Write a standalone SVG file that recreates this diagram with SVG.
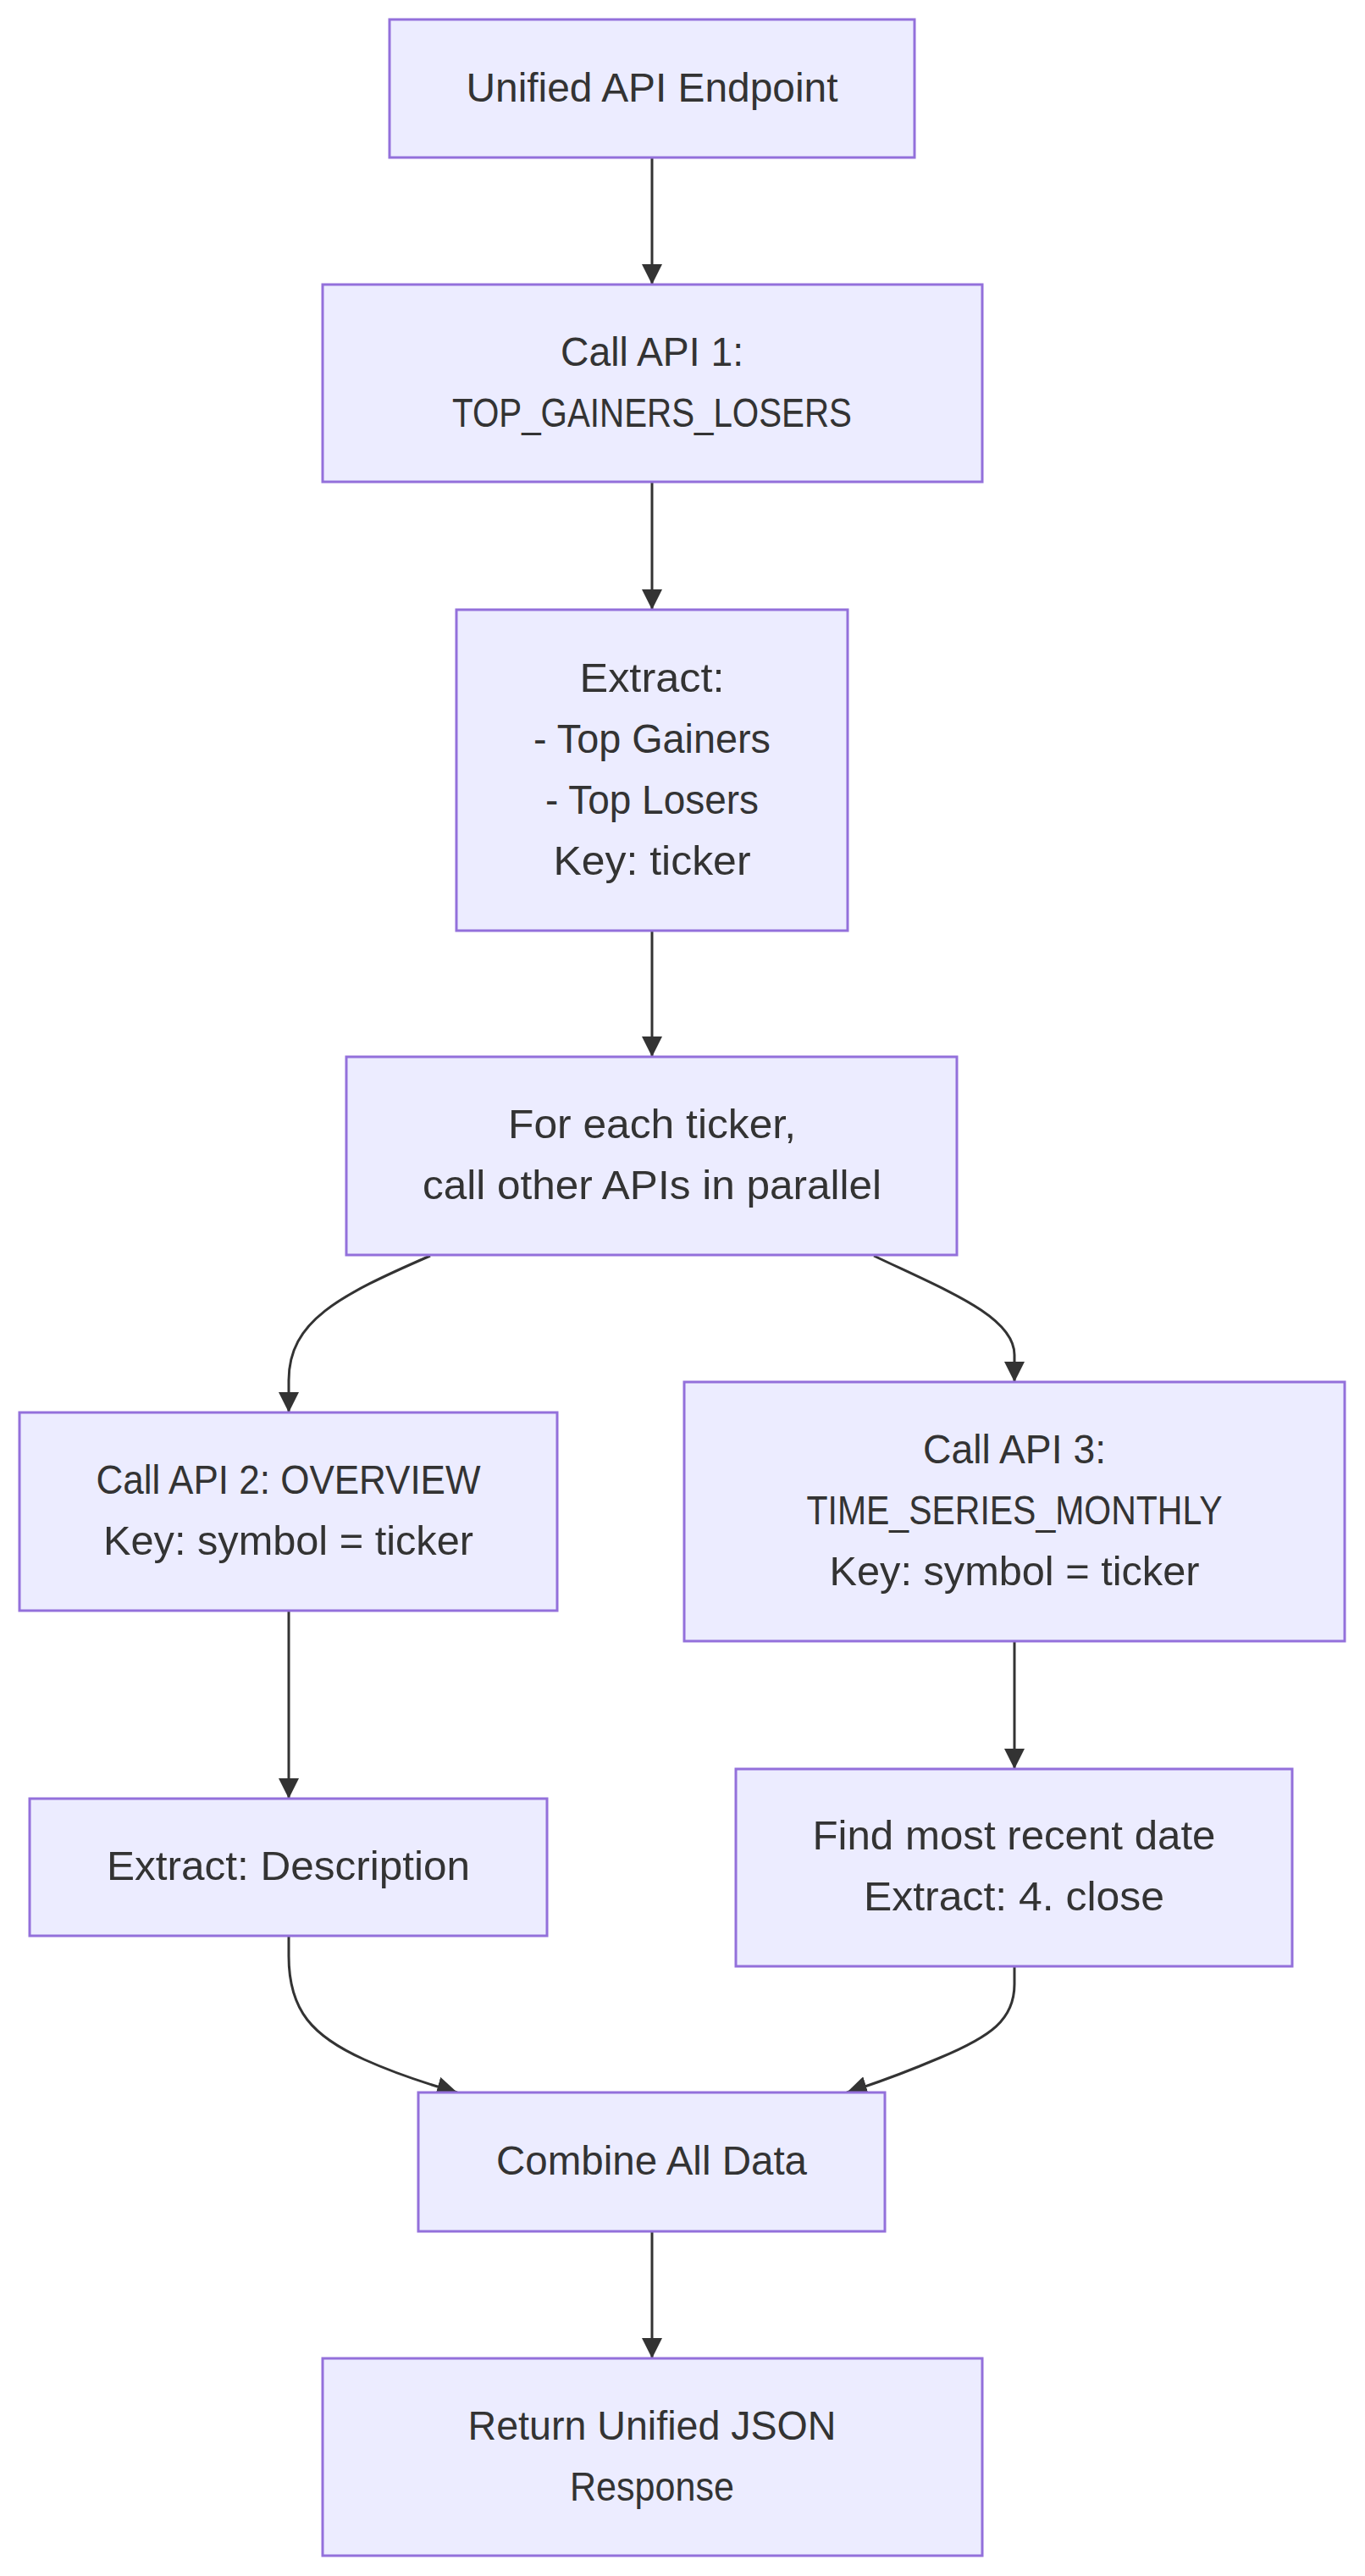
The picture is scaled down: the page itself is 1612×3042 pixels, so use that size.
<svg xmlns="http://www.w3.org/2000/svg" width="1612" height="3042" viewBox="0 0 1612 3042">
<style>
.node rect{fill:#ECECFF;stroke:#9370DB;stroke-width:3;}
.node text{font-family:"Liberation Sans",Arial,sans-serif;font-size:48px;fill:#333333;text-anchor:middle;}
.edge{fill:none;stroke:#333333;stroke-width:3;}
</style>
<defs>
<marker id="arrow" markerUnits="userSpaceOnUse" viewBox="0 0 24 24" markerWidth="24" markerHeight="24" refX="24" refY="12" orient="auto">
<path d="M0,0 L24,12 L0,24 z" fill="#333333"/>
</marker>
</defs>
<rect width="1612" height="3042" fill="#ffffff"/>
<g id="connectors">
<path class="edge" d="M770,186 L770,336" marker-end="url(#arrow)"/>
<path class="edge" d="M770,569 L770,720" marker-end="url(#arrow)"/>
<path class="edge" d="M770,1099 L770,1248" marker-end="url(#arrow)"/>
<path class="edge" d="M508,1483 C400,1530 341,1560 341,1630 L341,1668" marker-end="url(#arrow)"/>
<path class="edge" d="M1032,1483 C1120,1525 1198,1555 1198,1600 L1198,1632" marker-end="url(#arrow)"/>
<path class="edge" d="M341,1902 L341,2124" marker-end="url(#arrow)"/>
<path class="edge" d="M1198,1938 L1198,2089" marker-end="url(#arrow)"/>
<path class="edge" d="M341,2286 L341,2310 C341,2375 370,2405 430,2432 C470,2450 505,2461 540,2471" marker-end="url(#arrow)"/>
<path class="edge" d="M1198,2322 L1198,2343 C1198,2385 1170,2405 1110,2430 C1070,2447 1035,2460 1000,2471" marker-end="url(#arrow)"/>
<path class="edge" d="M770,2635 L770,2785" marker-end="url(#arrow)"/>
</g>
<g id="n1" class="node"><rect x="460" y="23" width="620" height="163"/><text x="770" y="120" textLength="439" lengthAdjust="spacingAndGlyphs">Unified API Endpoint</text></g>
<g id="n2" class="node"><rect x="381" y="336" width="779" height="233"/><text x="770" y="432" textLength="216" lengthAdjust="spacingAndGlyphs">Call API 1:</text><text x="770" y="504" textLength="472" lengthAdjust="spacingAndGlyphs">TOP_GAINERS_LOSERS</text></g>
<g id="n3" class="node"><rect x="539" y="720" width="462" height="379"/><text x="770" y="817" textLength="171" lengthAdjust="spacingAndGlyphs">Extract:</text><text x="770" y="889" textLength="280" lengthAdjust="spacingAndGlyphs">- Top Gainers</text><text x="770" y="961" textLength="252" lengthAdjust="spacingAndGlyphs">- Top Losers</text><text x="770" y="1033" textLength="233" lengthAdjust="spacingAndGlyphs">Key: ticker</text></g>
<g id="n4" class="node"><rect x="409" y="1248" width="721" height="234"/><text x="770" y="1344" textLength="340" lengthAdjust="spacingAndGlyphs">For each ticker,</text><text x="770" y="1416" textLength="542" lengthAdjust="spacingAndGlyphs">call other APIs in parallel</text></g>
<g id="n5" class="node"><rect x="23" y="1668" width="635" height="234"/><text x="340.5" y="1764" textLength="454" lengthAdjust="spacingAndGlyphs">Call API 2: OVERVIEW</text><text x="340.5" y="1836" textLength="437" lengthAdjust="spacingAndGlyphs">Key: symbol = ticker</text></g>
<g id="n6" class="node"><rect x="808" y="1632" width="780" height="306"/><text x="1198" y="1728" textLength="216" lengthAdjust="spacingAndGlyphs">Call API 3:</text><text x="1198" y="1800" textLength="491" lengthAdjust="spacingAndGlyphs">TIME_SERIES_MONTHLY</text><text x="1198" y="1872" textLength="437" lengthAdjust="spacingAndGlyphs">Key: symbol = ticker</text></g>
<g id="n7" class="node"><rect x="35" y="2124" width="611" height="162"/><text x="340.5" y="2220" textLength="429" lengthAdjust="spacingAndGlyphs">Extract: Description</text></g>
<g id="n8" class="node"><rect x="869" y="2089" width="657" height="233"/><text x="1197.5" y="2184" textLength="476" lengthAdjust="spacingAndGlyphs">Find most recent date</text><text x="1197.5" y="2256" textLength="355" lengthAdjust="spacingAndGlyphs">Extract: 4. close</text></g>
<g id="n9" class="node"><rect x="494" y="2471" width="551" height="164"/><text x="769.5" y="2568" textLength="367" lengthAdjust="spacingAndGlyphs">Combine All Data</text></g>
<g id="n10" class="node"><rect x="381" y="2785" width="779" height="233"/><text x="770" y="2881" textLength="435" lengthAdjust="spacingAndGlyphs">Return Unified JSON</text><text x="770" y="2953" textLength="194" lengthAdjust="spacingAndGlyphs">Response</text></g>
</svg>
